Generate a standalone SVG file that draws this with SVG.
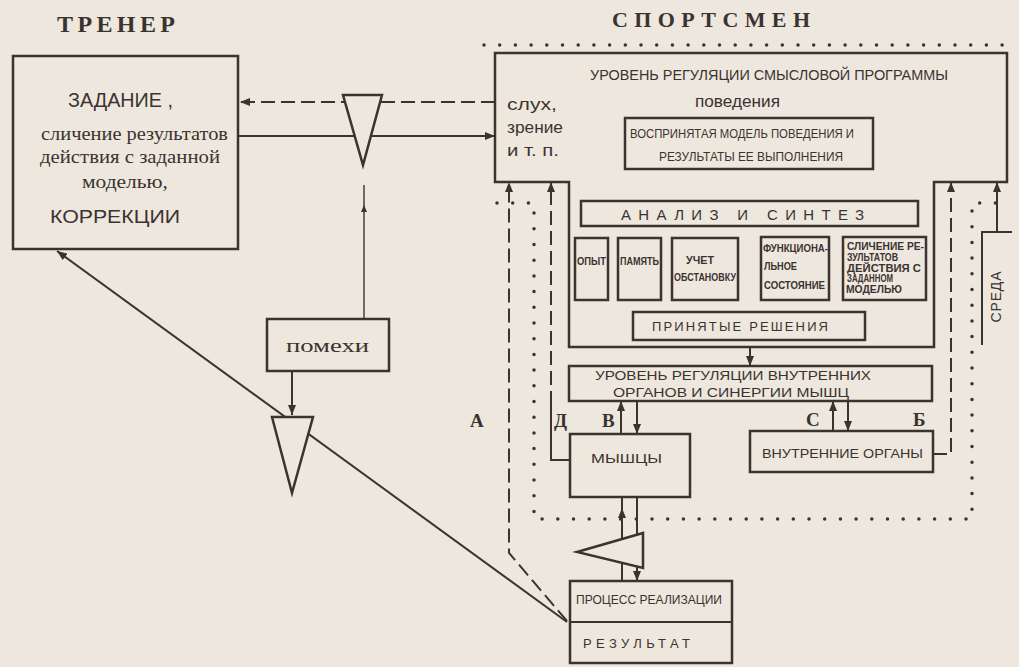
<svg xmlns="http://www.w3.org/2000/svg" width="1019" height="667" viewBox="0 0 1019 667">
<style>
.bx{fill:#eee7de;stroke:#3a3330;stroke-width:2.5}
.ln{fill:none;stroke:#3a3330;stroke-width:2}
.th{stroke-width:1.4}
.da{stroke-dasharray:14 6}
.dt{fill:none;stroke:#3a3330;stroke-width:3.5;stroke-linecap:round;stroke-dasharray:0 15.7}
text{fill:#3a3330;font-family:"Liberation Sans",Arial,sans-serif}
.sf{font-family:"Liberation Serif","Times New Roman",serif}
.hd{font-family:"Liberation Serif","Times New Roman",serif;font-weight:bold}
.b{font-weight:bold}
</style>
<defs>
<marker id="ar" markerUnits="userSpaceOnUse" markerWidth="10" markerHeight="8" refX="10" refY="4" orient="auto"><path d="M0,0 L10,4 L0,8 z" fill="#3a3330"/></marker>
<marker id="as" markerUnits="userSpaceOnUse" markerWidth="7" markerHeight="6" refX="7" refY="3" orient="auto"><path d="M0,0 L7,3 L0,6 z" fill="#3a3330"/></marker>
</defs>
<rect width="1019" height="667" fill="#eee7de"/>

<g id="titles">
<text class="hd" x="57" y="32" font-size="24" textLength="118" lengthAdjust="spacing">ТРЕНЕР</text>
<text class="hd" x="612" y="27" font-size="22" textLength="198" lengthAdjust="spacing">СПОРТСМЕН</text>
</g>

<g id="boundary">
<path class="dt" d="M484,45 H1012"/>
<path class="dt" d="M497,203 H534 V519 H972 V203 H1005"/>
</g>

<g id="connectors">
<path class="ln da" d="M495,102 L240,102" marker-end="url(#ar)"/>
<path class="ln" d="M238,136 L495,136" marker-end="url(#ar)"/>
<path class="ln th" d="M364,319 L364,205" marker-end="url(#as)"/>
<path class="ln th" d="M364,205 L364,185"/>
<path class="ln" d="M292,371 L292,415" marker-end="url(#ar)"/>
<path class="ln" d="M567,622 L57,251" marker-end="url(#ar)"/>
<path class="ln" d="M750,169 L750,201" marker-end="url(#ar)"/>
<path class="ln" d="M750,226 L750,312" marker-end="url(#ar)"/>
<path class="ln" d="M750,340 L750,366" marker-end="url(#ar)"/>
<path class="ln" d="M590,238 L590,226" marker-end="url(#as)"/>
<path class="ln" d="M638,238 L638,226" marker-end="url(#as)"/>
<path class="ln" d="M703,238 L703,226" marker-end="url(#as)"/>
<path class="ln" d="M793,237 L793,226" marker-end="url(#as)"/>
<path class="ln" d="M881,237 L881,226" marker-end="url(#as)"/>
<path class="ln" d="M621,434 L621,401" marker-end="url(#ar)"/>
<path class="ln" d="M637,401 L637,434" marker-end="url(#ar)"/>
<path class="ln" d="M833,431 L833,401" marker-end="url(#ar)"/>
<path class="ln" d="M848,401 L848,431" marker-end="url(#ar)"/>
<path class="ln" d="M622,581 L622,508" marker-end="url(#ar)"/>
<path class="ln" d="M622,508 L622,497"/>
<path class="ln" d="M637,497 L637,581" marker-end="url(#ar)"/>
<path class="ln" d="M570,460 H551 V405"/>
<path class="ln da" d="M551,405 V182" marker-end="url(#ar)"/>
<path class="ln da" d="M567,621 L509,553 V182" marker-end="url(#ar)"/>
<path class="ln da" d="M933,454 H951 V182" marker-end="url(#ar)"/>
<path class="ln" d="M997,232 V182" marker-end="url(#ar)"/>
</g>

<g id="coach">
<rect class="bx" x="13" y="56" width="225" height="193"/>
<text x="68" y="107" font-size="20" textLength="105" lengthAdjust="spacingAndGlyphs">ЗАДАНИЕ ,</text>
<text class="sf" x="41" y="140" font-size="18" textLength="187" lengthAdjust="spacingAndGlyphs">сличение результатов</text>
<text class="sf" x="40" y="163" font-size="18" textLength="180" lengthAdjust="spacingAndGlyphs">действия с заданной</text>
<text class="sf" x="82" y="188" font-size="18" textLength="86" lengthAdjust="spacingAndGlyphs">моделью,</text>
<text x="50" y="223" font-size="19" textLength="130" lengthAdjust="spacingAndGlyphs">КОРРЕКЦИИ</text>
</g>

<g id="filter1"><polygon class="bx" points="343,95 382,95 363,165"/></g>

<g id="noise">
<rect class="bx" x="267" y="319" width="122" height="52"/>
<text class="sf" x="286" y="352" font-size="18" textLength="83" lengthAdjust="spacingAndGlyphs">помехи</text>
</g>

<g id="filter2"><polygon class="bx" points="272,417 313,417 292,493"/></g>

<g id="athlete">
<path class="bx" d="M495,53 H1007 V182 H934 V347 H569 V182 H495 Z"/>
<text x="590" y="80" font-size="14" textLength="358" lengthAdjust="spacingAndGlyphs">УРОВЕНЬ  РЕГУЛЯЦИИ СМЫСЛОВОЙ ПРОГРАММЫ</text>
<text x="695" y="107" font-size="16" textLength="85" lengthAdjust="spacingAndGlyphs">поведения</text>
<text x="507" y="110" font-size="16" textLength="50" lengthAdjust="spacingAndGlyphs">слух,</text>
<text x="507" y="133" font-size="16" textLength="56" lengthAdjust="spacingAndGlyphs">зрение</text>
<text x="507" y="156" font-size="16" textLength="52" lengthAdjust="spacingAndGlyphs">и т. п.</text>
</g>

<g id="perceived">
<rect class="bx" x="625" y="118" width="248" height="51"/>
<text x="630" y="138" font-size="12" textLength="224" lengthAdjust="spacingAndGlyphs">ВОСПРИНЯТАЯ МОДЕЛЬ ПОВЕДЕНИЯ И</text>
<text x="659" y="161" font-size="12" textLength="184" lengthAdjust="spacingAndGlyphs">РЕЗУЛЬТАТЫ  ЕЕ ВЫПОЛНЕНИЯ</text>
</g>

<g id="analysis">
<rect class="bx" x="581" y="201" width="337" height="25"/>
<text x="621" y="220" font-size="15" textLength="243" lengthAdjust="spacing">АНАЛИЗ  И  СИНТЕЗ</text>
</g>

<g id="experience">
<rect class="bx" x="575" y="238" width="33" height="62"/>
<text class="b" x="577" y="265" font-size="11" textLength="29" lengthAdjust="spacingAndGlyphs">ОПЫТ</text>
</g>
<g id="memory">
<rect class="bx" x="618" y="238" width="43" height="62"/>
<text class="b" x="620" y="265" font-size="11" textLength="39" lengthAdjust="spacingAndGlyphs">ПАМЯТЬ</text>
</g>
<g id="situation">
<rect class="bx" x="672" y="238" width="66" height="62"/>
<text class="b" x="686" y="264" font-size="11" textLength="28" lengthAdjust="spacingAndGlyphs">УЧЕТ</text>
<text class="b" x="674" y="281" font-size="11" textLength="62" lengthAdjust="spacingAndGlyphs">ОБСТАНОВКУ</text>
</g>
<g id="functional">
<rect class="bx" x="761" y="237" width="68" height="63"/>
<text class="b" x="763" y="252" font-size="10.5" textLength="65" lengthAdjust="spacingAndGlyphs">ФУНКЦИОНА-</text>
<text class="b" x="764" y="270" font-size="10.5" textLength="33" lengthAdjust="spacingAndGlyphs">ЛЬНОЕ</text>
<text class="b" x="764" y="289" font-size="10.5" textLength="61" lengthAdjust="spacingAndGlyphs">СОСТОЯНИЕ</text>
</g>
<g id="comparison">
<rect class="bx" x="843" y="237" width="83" height="63"/>
<text class="b" x="847" y="250" font-size="10" textLength="77" lengthAdjust="spacingAndGlyphs">СЛИЧЕНИЕ РЕ-</text>
<text class="b" x="847" y="261" font-size="10" textLength="51" lengthAdjust="spacingAndGlyphs">ЗУЛЬТАТОВ</text>
<text class="b" x="847" y="272" font-size="10" textLength="74" lengthAdjust="spacingAndGlyphs">ДЕЙСТВИЯ С</text>
<text class="b" x="847" y="282" font-size="10" textLength="46" lengthAdjust="spacingAndGlyphs">ЗАДАННОМ</text>
<text class="b" x="846" y="293" font-size="10" textLength="56" lengthAdjust="spacingAndGlyphs">МОДЕЛЬЮ</text>
</g>

<g id="decisions">
<rect class="bx" x="633" y="312" width="232" height="28"/>
<text x="652" y="331" font-size="13" textLength="176" lengthAdjust="spacing">ПРИНЯТЫЕ  РЕШЕНИЯ</text>
</g>

<g id="regulation">
<rect class="bx" x="569" y="366" width="363" height="35"/>
<text x="595" y="380" font-size="12" textLength="276" lengthAdjust="spacingAndGlyphs">УРОВЕНЬ  РЕГУЛЯЦИИ  ВНУТРЕННИХ</text>
<text x="613" y="397" font-size="12" textLength="236" lengthAdjust="spacingAndGlyphs">ОРГАНОВ  И  СИНЕРГИИ  МЫШЦ</text>
</g>

<g id="muscles">
<rect class="bx" x="570" y="434" width="120" height="63"/>
<text x="591" y="463" font-size="13" textLength="71" lengthAdjust="spacingAndGlyphs">МЫШЦЫ</text>
</g>

<g id="organs">
<rect class="bx" x="750" y="431" width="183" height="41"/>
<text x="762" y="458" font-size="13" textLength="161" lengthAdjust="spacingAndGlyphs">ВНУТРЕННИЕ ОРГАНЫ</text>
</g>

<g id="filter3"><polygon class="bx" points="577,552 643,533 643,568"/></g>

<g id="process">
<rect class="bx" x="570" y="581" width="162" height="82"/>
<line class="ln" x1="570" y1="622" x2="732" y2="622" stroke-width="2.5"/>
<text x="576" y="604" font-size="12" textLength="146" lengthAdjust="spacingAndGlyphs">ПРОЦЕСС РЕАЛИЗАЦИИ</text>
<text x="583" y="648" font-size="13" textLength="107" lengthAdjust="spacing">РЕЗУЛЬТАТ</text>
</g>

<g id="environment">
<path class="ln" d="M982,345 V232 H1012" stroke-width="3"/>
<text x="1001" y="297" font-size="14" text-anchor="middle" transform="rotate(-90 1001 297)" textLength="51" lengthAdjust="spacing">СРЕДА</text>
</g>

<g id="labels">
<text class="hd" x="470" y="427" font-size="19">А</text>
<text class="hd" x="554" y="427" font-size="19">Д</text>
<text class="hd" x="602" y="427" font-size="19">В</text>
<text class="hd" x="806" y="426" font-size="19">С</text>
<text class="hd" x="913" y="426" font-size="19">Б</text>
</g>
</svg>
